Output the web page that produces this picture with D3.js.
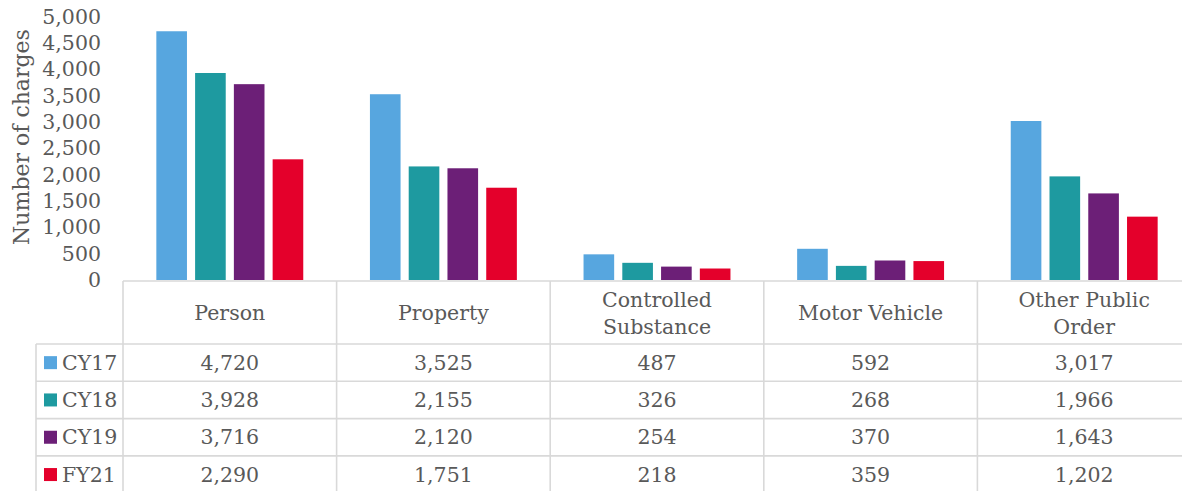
<!DOCTYPE html>
<html>
<head>
<meta charset="utf-8">
<script src="https://cdn.jsdelivr.net/npm/d3@7"></script>
<style>
  body { margin: 0; background: #fff; }
  svg text { font-family: "DejaVu Serif", serif; fill: #595959; }
</style>
</head>
<body>
<div id="chart"></div>
<script>
// Data
const categories = ["Person", "Property", "Controlled Substance", "Motor Vehicle", "Other Public Order"];
const categoryLines = [["Person"], ["Property"], ["Controlled", "Substance"], ["Motor Vehicle"], ["Other Public", "Order"]];
const seriesNames = ["CY17", "CY18", "CY19", "FY21"];
const cy17 = [4720, 3525, 487, 592, 3017];
const cy18 = [3928, 2155, 326, 268, 1966];
const cy19 = [3716, 2120, 254, 370, 1643];
const fy21 = [2290, 1751, 218, 359, 1202];
const yTicks = [0, 500, 1000, 1500, 2000, 2500, 3000, 3500, 4000, 4500, 5000];
const colors = ["#57A6DF", "#1E9AA0", "#6C1F77", "#E4002B"];

const seriesValues = [cy17, cy18, cy19, fy21];

const width = 1182, height = 491;
const fontSize = 20.5;
const gridColor = "#d9d9d9";

const svg = d3.select("#chart")
    .append("svg")
    .attr("width", width)
    .attr("height", height);

// Scales
const xScale = d3.scaleBand()
    .domain(categories)
    .range([123, 123 + 5 * 213.6])
    .padding(0);

const xInner = d3.scaleBand()
    .domain(seriesNames)
    .range([0, xScale.bandwidth()])
    .paddingInner(0.21)
    .paddingOuter(0.86);

const yScale = d3.scaleLinear()
    .domain([0, 5000])
    .range([280, 16.5]);

const colorScale = d3.scaleOrdinal().domain(seriesNames).range(colors);

// Bars
const rows = [];
categories.forEach((c, ci) => {
    seriesNames.forEach((s, si) => {
        rows.push({ category: c, series: s, value: seriesValues[si][ci] });
    });
});

svg.append("g")
    .selectAll("rect")
    .data(rows)
    .enter().append("rect")
    .attr("x", d => xScale(d.category) + xInner(d.series))
    .attr("y", d => yScale(d.value))
    .attr("width", xInner.bandwidth())
    .attr("height", d => yScale(0) - yScale(d.value))
    .attr("fill", d => colorScale(d.series));

// Y axis
const yAxis = svg.append("g")
    .attr("transform", "translate(101,0)")
    .call(d3.axisLeft(yScale).tickValues(yTicks).tickSize(0).tickPadding(0).tickFormat(d3.format(",")));
yAxis.select(".domain").remove();
yAxis.selectAll("text")
    .style("font-family", "DejaVu Serif, serif")
    .style("font-size", fontSize + "px")
    .attr("fill", "#595959");

svg.append("text")
    .attr("transform", "translate(29,137) rotate(-90)")
    .attr("text-anchor", "middle")
    .style("font-size", "22px")
    .text("Number of charges");

// Data table
const tableTop = 281;
const headerBottom = 344;
const rowH = 37.3;
const legendLeft = 36;
const tableRight = xScale.range()[1];
const grid = svg.append("g")
    .attr("stroke", gridColor)
    .attr("stroke-width", 1.6)
    .attr("fill", "none");

// horizontal lines
grid.append("line")
    .attr("x1", 123).attr("x2", tableRight)
    .attr("y1", tableTop).attr("y2", tableTop);
seriesNames.forEach((s, i) => {
    grid.append("line")
        .attr("x1", legendLeft).attr("x2", tableRight)
        .attr("y1", headerBottom + i * rowH).attr("y2", headerBottom + i * rowH);
});
grid.append("line")
    .attr("x1", legendLeft).attr("x2", tableRight)
    .attr("y1", headerBottom + 4 * rowH).attr("y2", headerBottom + 4 * rowH);

// vertical lines
grid.append("line")
    .attr("x1", legendLeft).attr("x2", legendLeft)
    .attr("y1", headerBottom).attr("y2", height + 5);
categories.forEach(c => {
    grid.append("line")
        .attr("x1", xScale(c)).attr("x2", xScale(c))
        .attr("y1", tableTop).attr("y2", height + 5);
});
grid.append("line")
    .attr("x1", tableRight).attr("x2", tableRight)
    .attr("y1", tableTop).attr("y2", height + 5);

// header labels
const header = svg.append("g")
    .selectAll("text")
    .data(categories)
    .enter().append("text")
    .attr("text-anchor", "middle")
    .style("font-size", fontSize + "px")
    .attr("x", d => xScale(d) + xScale.bandwidth() / 2)
    .attr("y", (d, i) => categoryLines[i].length === 1 ? 313 : 300);
header.selectAll("tspan")
    .data((d, i) => categoryLines[i])
    .enter().append("tspan")
    .attr("x", function() { return d3.select(this.parentNode).attr("x"); })
    .attr("dy", (d, i) => i === 0 ? "0.35em" : 27)
    .text(d => d);

// legend cells
const legendRows = svg.append("g")
    .selectAll("g")
    .data(seriesNames)
    .enter().append("g")
    .attr("transform", (d, i) => `translate(0,${headerBottom + i * rowH + rowH / 2})`);
legendRows.append("rect")
    .attr("x", 44)
    .attr("y", -6.5)
    .attr("width", 13)
    .attr("height", 13)
    .attr("fill", d => colorScale(d));
legendRows.append("text")
    .attr("x", 62)
    .attr("dy", "0.35em")
    .style("font-size", fontSize + "px")
    .text(d => d);

// values
svg.append("g")
    .selectAll("text")
    .data(rows)
    .enter().append("text")
    .attr("text-anchor", "middle")
    .style("font-size", fontSize + "px")
    .attr("x", d => xScale(d.category) + xScale.bandwidth() / 2)
    .attr("y", d => headerBottom + seriesNames.indexOf(d.series) * rowH + rowH / 2)
    .attr("dy", "0.35em")
    .text(d => d3.format(",")(d.value));
</script>
</body>
</html>
